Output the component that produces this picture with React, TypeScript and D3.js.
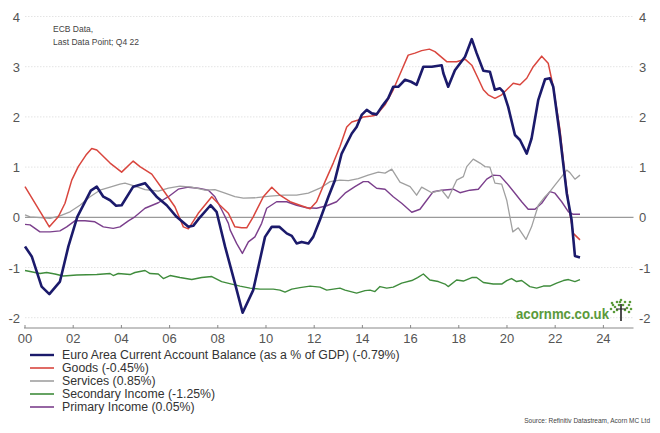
import React from "react";
import * as d3 from "d3";

type Pt = [number, number];

const currentAccount: Pt[] = [
  [2000.0, -0.58], [2000.28, -0.78], [2000.69, -1.38], [2001.01, -1.53], [2001.45, -1.28],
  [2001.8, -0.58], [2002.17, 0.01], [2002.73, 0.53], [2002.98, 0.61], [2003.25, 0.41],
  [2003.53, 0.34], [2003.78, 0.23], [2004.01, 0.24], [2004.49, 0.61], [2004.98, 0.68],
  [2005.46, 0.41], [2005.88, 0.24], [2006.29, 0.01], [2006.78, -0.19], [2006.98, -0.17],
  [2007.26, 0.0], [2007.7, 0.24], [2007.95, 0.11], [2008.3, -0.58], [2008.71, -1.31],
  [2009.03, -1.9], [2009.47, -1.45], [2009.96, -0.39], [2010.24, -0.19], [2010.55, -0.19],
  [2010.86, -0.32], [2011.07, -0.37], [2011.27, -0.52], [2011.48, -0.49], [2011.76, -0.52],
  [2011.96, -0.39], [2012.24, -0.05], [2012.59, 0.41], [2012.86, 0.74], [2013.14, 1.27],
  [2013.35, 1.47], [2013.56, 1.67], [2013.76, 1.8], [2013.97, 2.04], [2014.18, 2.14],
  [2014.39, 2.07], [2014.59, 2.05], [2014.8, 2.2], [2015.07, 2.37], [2015.28, 2.6],
  [2015.49, 2.6], [2015.77, 2.74], [2016.02, 2.7], [2016.25, 2.64], [2016.53, 3.0],
  [2016.88, 3.0], [2017.29, 3.03], [2017.36, 2.87], [2017.56, 2.6], [2017.84, 2.93],
  [2018.26, 3.2], [2018.54, 3.55], [2018.74, 3.27], [2019.02, 2.92], [2019.29, 2.9],
  [2019.5, 2.54], [2019.71, 2.57], [2019.85, 2.5], [2020.05, 2.2], [2020.33, 1.64],
  [2020.54, 1.54], [2020.82, 1.27], [2021.02, 1.57], [2021.3, 2.34], [2021.58, 2.75],
  [2021.78, 2.77], [2021.92, 2.6], [2022.2, 1.61], [2022.48, 0.48], [2022.68, -0.05],
  [2022.82, -0.77], [2023.03, -0.8],
];

const goods: Pt[] = [
  [2000.0, 0.61], [2000.76, 0.01], [2001.01, -0.19], [2001.38, 0.01], [2001.66, 0.28],
  [2001.94, 0.74], [2002.21, 1.01], [2002.53, 1.24], [2002.77, 1.37], [2002.98, 1.34],
  [2003.53, 1.08], [2004.01, 0.9], [2004.49, 1.12], [2004.77, 1.01], [2005.26, 0.86],
  [2005.74, 0.54], [2006.22, 0.21], [2006.57, -0.19], [2006.78, -0.23], [2007.19, 0.08],
  [2007.75, 0.41], [2008.09, 0.24], [2008.44, 0.08], [2008.71, -0.19], [2008.99, -0.21],
  [2009.2, -0.21], [2009.47, 0.01], [2009.89, 0.41], [2010.24, 0.6], [2010.58, 0.44],
  [2011.0, 0.31], [2011.41, 0.24], [2011.83, 0.17], [2012.1, 0.31], [2012.45, 0.71],
  [2012.79, 1.08], [2013.07, 1.41], [2013.35, 1.8], [2013.56, 1.9], [2013.83, 1.94],
  [2014.04, 2.0], [2014.39, 2.02], [2014.59, 2.04], [2014.94, 2.24], [2015.28, 2.54],
  [2015.63, 2.93], [2015.9, 3.23], [2016.18, 3.27], [2016.46, 3.32], [2016.78, 3.35],
  [2017.01, 3.3], [2017.5, 3.1], [2017.91, 3.1], [2018.26, 3.15], [2018.54, 3.03],
  [2018.74, 2.83], [2019.02, 2.54], [2019.22, 2.44], [2019.5, 2.37], [2019.78, 2.44],
  [2020.05, 2.57], [2020.26, 2.67], [2020.54, 2.64], [2020.82, 2.77], [2021.09, 3.0],
  [2021.44, 3.21], [2021.71, 3.07], [2021.92, 2.6], [2022.2, 1.74], [2022.41, 0.81],
  [2022.61, 0.08], [2022.75, -0.32], [2023.03, -0.45],
];

const services: Pt[] = [
  [2000.0, 0.05], [2000.21, 0.01], [2001.04, -0.02], [2001.45, 0.03], [2001.87, 0.11],
  [2002.28, 0.24], [2002.7, 0.41], [2003.11, 0.54], [2003.53, 0.6], [2003.94, 0.66],
  [2004.15, 0.68], [2004.56, 0.62], [2004.98, 0.55], [2005.53, 0.52], [2005.95, 0.58],
  [2006.43, 0.62], [2006.92, 0.6], [2007.47, 0.54], [2007.88, 0.55], [2008.3, 0.48],
  [2008.71, 0.41], [2009.06, 0.38], [2009.61, 0.39], [2010.17, 0.42], [2010.72, 0.44],
  [2011.27, 0.44], [2011.76, 0.48], [2012.24, 0.58], [2012.66, 0.71], [2013.07, 0.74],
  [2013.42, 0.73], [2013.83, 0.77], [2014.24, 0.84], [2014.66, 0.9], [2014.94, 0.88],
  [2015.22, 0.96], [2015.56, 0.7], [2015.98, 0.61], [2016.25, 0.44], [2016.46, 0.6],
  [2016.88, 0.49], [2017.29, 0.54], [2017.56, 0.38], [2017.91, 0.74], [2018.19, 0.81],
  [2018.33, 1.01], [2018.6, 1.16], [2018.88, 1.08], [2019.09, 1.01], [2019.29, 1.0],
  [2019.5, 0.68], [2019.78, 0.66], [2019.99, 0.34], [2020.24, -0.29], [2020.47, -0.21],
  [2020.79, -0.44], [2021.02, -0.19], [2021.3, 0.24], [2021.58, 0.41], [2021.78, 0.51],
  [2021.99, 0.64], [2022.27, 0.81], [2022.48, 0.94], [2022.61, 0.89], [2022.82, 0.76],
  [2023.03, 0.84],
];

const secondaryIncome: Pt[] = [
  [2000.0, -1.06], [2000.21, -1.08], [2000.62, -1.12], [2000.9, -1.1], [2001.24, -1.13],
  [2001.59, -1.17], [2002.15, -1.15], [2002.98, -1.14], [2003.53, -1.12], [2003.66, -1.16],
  [2003.87, -1.12], [2004.36, -1.14], [2004.56, -1.1], [2004.98, -1.06], [2005.19, -1.12],
  [2005.53, -1.13], [2005.74, -1.22], [2006.02, -1.16], [2006.43, -1.2], [2006.92, -1.24],
  [2007.33, -1.2], [2007.75, -1.18], [2008.16, -1.28], [2008.58, -1.33], [2008.92, -1.37],
  [2009.34, -1.41], [2009.75, -1.43], [2010.3, -1.43], [2010.58, -1.45], [2010.79, -1.49],
  [2011.07, -1.43], [2011.41, -1.4], [2011.83, -1.37], [2012.24, -1.39], [2012.52, -1.45],
  [2013.07, -1.41], [2013.28, -1.45], [2013.76, -1.51], [2014.11, -1.46], [2014.32, -1.45],
  [2014.52, -1.48], [2014.73, -1.38], [2015.01, -1.41], [2015.28, -1.39], [2015.63, -1.31],
  [2016.05, -1.26], [2016.29, -1.2], [2016.53, -1.13], [2016.8, -1.25], [2017.15, -1.28],
  [2017.43, -1.33], [2017.56, -1.38], [2017.91, -1.25], [2018.19, -1.27], [2018.54, -1.2],
  [2018.74, -1.2], [2019.02, -1.3], [2019.43, -1.33], [2019.78, -1.33], [2019.99, -1.26],
  [2020.19, -1.22], [2020.4, -1.28], [2020.61, -1.26], [2020.95, -1.38], [2021.23, -1.41],
  [2021.51, -1.37], [2021.78, -1.37], [2022.06, -1.31], [2022.34, -1.26], [2022.55, -1.24],
  [2022.82, -1.28], [2023.03, -1.24],
];

const primaryIncome: Pt[] = [
  [2000.0, -0.14], [2000.21, -0.15], [2000.62, -0.29], [2001.04, -0.29], [2001.45, -0.27],
  [2001.73, -0.19], [2002.07, -0.07], [2002.49, -0.07], [2002.9, -0.09], [2003.25, -0.19],
  [2003.66, -0.22], [2003.94, -0.19], [2004.29, -0.07], [2004.56, 0.01], [2004.98, 0.18],
  [2005.53, 0.29], [2005.95, 0.41], [2006.36, 0.56], [2006.78, 0.6], [2007.19, 0.58],
  [2007.61, 0.54], [2007.88, 0.41], [2008.16, 0.15], [2008.44, -0.12], [2008.51, -0.25],
  [2008.78, -0.52], [2009.02, -0.72], [2009.27, -0.49], [2009.54, -0.39], [2009.82, -0.12],
  [2010.03, 0.18], [2010.44, 0.31], [2010.86, 0.31], [2011.27, 0.24], [2011.69, 0.19],
  [2012.1, 0.18], [2012.52, 0.23], [2012.93, 0.31], [2013.28, 0.48], [2013.69, 0.61],
  [2014.04, 0.71], [2014.24, 0.71], [2014.59, 0.58], [2014.94, 0.56], [2015.28, 0.41],
  [2015.63, 0.28], [2016.05, 0.1], [2016.39, 0.16], [2016.67, 0.34], [2016.94, 0.51],
  [2017.29, 0.54], [2017.77, 0.56], [2018.05, 0.49], [2018.46, 0.54], [2018.81, 0.56],
  [2019.16, 0.76], [2019.43, 0.84], [2019.71, 0.83], [2019.99, 0.68], [2020.33, 0.48],
  [2020.61, 0.31], [2020.88, 0.16], [2021.16, 0.16], [2021.44, 0.28], [2021.78, 0.51],
  [2021.99, 0.48], [2022.27, 0.31], [2022.55, 0.11], [2022.75, 0.06], [2023.03, 0.06],
];

const yTicks = [-2, -1, 0, 1, 2, 3, 4];
const xTicks = [2000, 2002, 2004, 2006, 2008, 2010, 2012, 2014, 2016, 2018, 2020, 2022, 2024];
const xTickLabels = ["00", "02", "04", "06", "08", "10", "12", "14", "16", "18", "20", "22", "24"];

const legendLabels = [
  "Euro Area Current Account Balance (as a % of GDP) (-0.79%)",
  "Goods (-0.45%)",
  "Services (0.85%)",
  "Secondary Income (-1.25%)",
  "Primary Income  (0.05%)",
];

const annotationLines = ["ECB Data,", "Last Data Point; Q4 22"];
const sourceText = "Source: Refinitiv Datastream, Acorn MC Ltd";
const logoText = "acornmc.co.uk";

const series = [
  { data: primaryIncome, color: "#7b3f8c", width: 1.4 },
  { data: secondaryIncome, color: "#3f8c3c", width: 1.4 },
  { data: services, color: "#a0a0a0", width: 1.3 },
  { data: goods, color: "#d9463e", width: 1.5 },
  { data: currentAccount, color: "#1b1a6b", width: 2.6 },
];
const legendStyles = [
  { color: "#1b1a6b", width: 2.4 },
  { color: "#d9463e", width: 1.6 },
  { color: "#a0a0a0", width: 1.6 },
  { color: "#3f8c3c", width: 1.6 },
  { color: "#7b3f8c", width: 1.6 },
];

export default function App() {
  const W = 660, H = 433;
  const x = d3.scaleLinear().domain([2000, 2025.25]).range([25, 633.5]);
  const y = d3.scaleLinear().domain([-2, 4]).range([317.7, 16.5]);
  const line = d3.line<Pt>().x((d) => x(d[0])).y((d) => y(d[1]));
  const font = "'Liberation Sans', Arial, sans-serif";
  const axisY = 328;
  const legTop = 355;
  const legStep = 13;

  const treeDots: [number, number][] = [
    [613, 305], [617, 302], [621, 300], [625, 302], [629, 305], [611, 309], [615, 307],
    [627, 308], [631, 309], [619, 305], [623, 305], [614, 312], [629, 312], [617, 310], [625, 310],
    [620, 302], [612, 303], [630, 302],
  ];

  return (
    <svg width={W} height={H} style={{ position: "absolute", left: 0, top: 0, background: "#fff" }} fontFamily={font}>
      <rect width={W} height={H} fill="#fff" />
      {yTicks.map((t) => (
        <g key={t}>
          {t !== 0 && (
            <line x1={25} x2={633.5} y1={y(t)} y2={y(t)} stroke="#e4e4e4" strokeWidth={1} strokeDasharray="1.5 1.5" />
          )}
          <text x={20} y={y(t) + 5} textAnchor="end" fontSize={13} fill="#555">{t}</text>
          <text x={639} y={y(t) + 5} textAnchor="start" fontSize={13} fill="#555">{t}</text>
        </g>
      ))}
      <line x1={25} x2={633.5} y1={y(0)} y2={y(0)} stroke="#9a9a9a" strokeWidth={1.2} />

      {series.map((s, i) => (
        <path key={i} d={line(s.data) || ""} fill="none" stroke={s.color} strokeWidth={s.width} strokeLinejoin="round" />
      ))}

      <line x1={24} x2={633.5} y1={axisY} y2={axisY} stroke="#888" strokeWidth={1} />
      {xTicks.map((t, i) => (
        <g key={t}>
          <line x1={x(t)} x2={x(t)} y1={axisY - 3} y2={axisY} stroke="#888" strokeWidth={1} />
          <text x={x(t)} y={axisY + 15} textAnchor="middle" fontSize={13} fill="#555">{xTickLabels[i]}</text>
        </g>
      ))}

      {annotationLines.map((s, i) => (
        <text key={i} x={53} y={32 + i * 13} fontSize={8.5} fill="#444">{s}</text>
      ))}

      <text x={609} y={319} textAnchor="end" fontSize={15} fontWeight="bold" fill="#5a9a3a" textLength={93} lengthAdjust="spacingAndGlyphs">{logoText}</text>
      <g>
        {treeDots.map((d, i) => (
          <circle key={i} cx={d[0]} cy={d[1]} r={1.3} fill="#5a9a3a" />
        ))}
        <line x1={621} x2={621} y1={304} y2={321} stroke="#222" strokeWidth={1.6} />
        <line x1={616} x2={626} y1={309} y2={309} stroke="#222" strokeWidth={1} />
      </g>

      {legendLabels.map((s, i) => (
        <g key={i}>
          <line x1={30} x2={54} y1={legTop + i * legStep} y2={legTop + i * legStep} stroke={legendStyles[i].color} strokeWidth={legendStyles[i].width} />
          <text x={62} y={legTop + i * legStep + 4.3} fontSize={12.3} fill="#333">{s}</text>
        </g>
      ))}

      <text x={650} y={423} textAnchor="end" fontSize={6.5} fill="#444">{sourceText}</text>
    </svg>
  );
}
